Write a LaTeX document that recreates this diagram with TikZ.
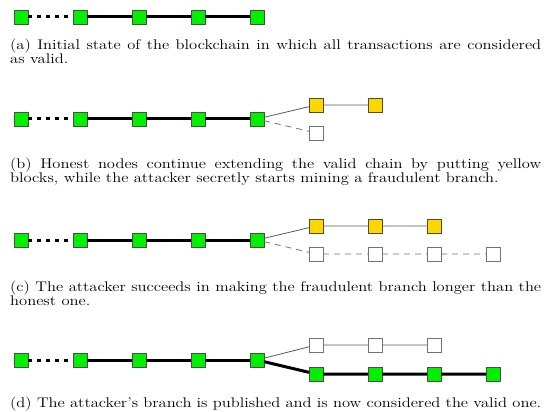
\documentclass[tikz,border=0pt]{standalone}
\usetikzlibrary{positioning}
\definecolor{blockgreen}{RGB}{0,240,0}
\definecolor{blockyellow}{RGB}{255,215,0}
\newcommand{\capbox}[1]{\scalebox{1.18}[1]{\parbox[t]{450pt}{\fontsize{14}{14}\selectfont #1}}}
\tikzset{
  x=1pt, y=-1pt,
  blk/.style={draw=black!70, line width=0.6pt, minimum size=14pt, inner sep=0pt, outer sep=0pt},
  valid/.style={blk, fill=blockgreen},
  honest/.style={blk, fill=blockyellow, draw=black!60!yellow!50!black},
  secret/.style={blk, fill=white, draw=black!55},
  chain/.style={line width=3pt, black},
  past/.style={line width=3pt, black, dash pattern=on 4pt off 5pt},
  side/.style={line width=0.8pt, black!65},
  hidden/.style={line width=0.8pt, black!55, dash pattern=on 6pt off 5pt},
  capt/.style={anchor=north west, inner sep=0pt}
}
\begin{document}
\begin{tikzpicture}
\useasboundingbox (0,0) rectangle (547,412);

% (a) initial chain
\foreach \i in {1,...,5} \node[valid] (a\i) at ({21+59*(\i-1)},17) {};
\draw[past] (a1) -- (a2);
\draw[chain] (a2) -- (a3) -- (a4) -- (a5);
\node[capt] (capa) at (10,39) {\capbox{(a) Initial state of the blockchain in which all transactions are considered\linebreak as valid.}};

% (b) fork begins
\foreach \i in {1,...,5} \node[valid] (b\i) at ({21+59*(\i-1)},119) {};
\node[honest] (by1) at (316,105) {};
\node[honest] (by2) at (375,105) {};
\node[secret] (bw1) at (316,133) {};
\draw[past] (b1) -- (b2);
\draw[chain] (b2) -- (b3) -- (b4) -- (b5);
\draw[side] (b5) -- (by1) -- (by2);
\draw[hidden] (b5) -- (bw1);
\node[capt] (capb) at (10,158) {\capbox{(b) Honest nodes continue extending the valid chain by putting yellow blocks, while the attacker secretly starts mining a fraudulent branch.}};

% (c) fraudulent branch grows longer
\foreach \i in {1,...,5} \node[valid] (c\i) at ({21+59*(\i-1)},240) {};
\foreach \i in {1,2,3} \node[honest] (cy\i) at ({316+59*(\i-1)},226) {};
\foreach \i in {1,...,4} \node[secret] (cw\i) at ({316+59*(\i-1)},254) {};
\draw[past] (c1) -- (c2);
\draw[chain] (c2) -- (c3) -- (c4) -- (c5);
\draw[side] (c5) -- (cy1) -- (cy2) -- (cy3);
\draw[hidden] (c5) -- (cw1) -- (cw2) -- (cw3) -- (cw4);
\node[capt] (capc) at (10,281) {\capbox{(c) The attacker succeeds in making the fraudulent branch longer than the honest one.}};

% (d) attacker's branch published
\foreach \i in {1,...,5} \node[valid] (d\i) at ({21+59*(\i-1)},360) {};
\foreach \i in {1,2,3} \node[secret] (dw\i) at ({316+59*(\i-1)},345) {};
\foreach \i in {1,...,4} \node[valid] (dg\i) at ({316+59*(\i-1)},374) {};
\draw[past] (d1) -- (d2);
\draw[chain] (d2) -- (d3) -- (d4) -- (d5);
\draw[side] (d5) -- (dw1) -- (dw2) -- (dw3);
\draw[chain] (d5) -- (dg1) -- (dg2) -- (dg3) -- (dg4);
\node[capt] (capd) at (10,397) {\capbox{(d) The attacker's branch is published and is now considered the valid one.}};
\end{tikzpicture}
\end{document}
